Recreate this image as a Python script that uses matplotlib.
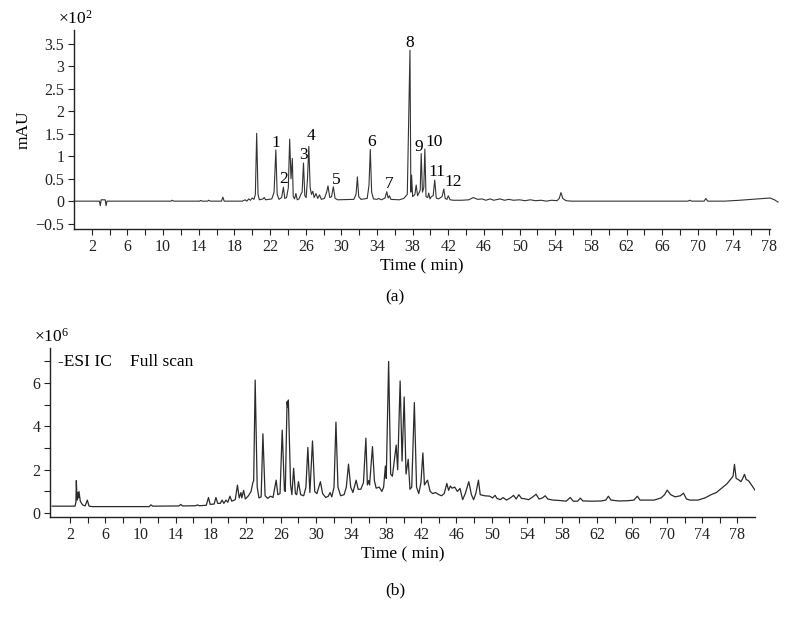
import matplotlib
matplotlib.use("Agg")
import matplotlib.pyplot as plt
from matplotlib.ticker import FixedLocator, FixedFormatter

plt.rcParams['font.family'] = ['Liberation Serif', 'DejaVu Serif']
plt.rcParams['mathtext.fontset'] = 'custom'
plt.rcParams['mathtext.rm'] = 'Liberation Serif'
plt.rcParams['mathtext.it'] = 'Liberation Serif:italic'

# ---------------- data: panel (a) UV chromatogram (x10^2 mAU) ----------------
time_a = [0, 2.85, 2.95, 3.05, 3.5, 3.6, 3.7, 10.9, 11.0, 11.2, 14.1, 14.2, 14.4,
          15.0, 15.1, 15.3, 16.55, 16.7, 16.85, 18.9, 19.2, 19.4, 19.6, 19.8, 20.0,
          20.2, 20.35, 20.5, 20.65, 20.8, 21.2, 21.35, 21.5, 22.2, 22.45, 22.65, 22.8,
          23.0, 23.3, 23.5, 23.65, 23.85, 24.05, 24.2, 24.35, 24.5, 24.6, 24.75, 24.9,
          25.05, 25.25, 25.45, 25.6, 25.75, 25.9, 26.05, 26.2, 26.35, 26.5, 26.65,
          26.8, 26.95, 27.15, 27.35, 27.55, 27.75, 28.1, 28.35, 28.5, 28.7, 28.9,
          29.1, 29.3, 29.6, 31.4, 31.65, 31.8, 31.95, 32.2, 32.9, 33.1, 33.25, 33.4,
          33.6, 34.0, 34.2, 34.5, 34.9, 35.1, 35.25, 35.4, 35.55, 36.5, 37.0, 37.4,
          37.55, 37.7, 37.8, 37.88, 38.0, 38.25, 38.4, 38.55, 38.75, 38.85, 38.96,
          39.1, 39.25, 39.37, 39.5, 39.7, 39.8, 39.95, 40.1, 40.3, 40.48, 40.65, 40.9,
          41.3, 41.5, 41.65, 41.85, 42.0, 42.2, 42.6, 43.5, 44.3, 44.8, 45.3, 45.8,
          46.2, 46.7, 47.1, 47.8, 48.3, 48.8, 49.3, 50.0, 50.6, 51.2, 51.8, 52.4,
          53.0, 53.6, 54.2, 54.45, 54.64, 54.85, 55.2, 55.8, 57.0, 60.0, 65.0, 68.9,
          69.1, 69.3, 70.7, 70.9, 71.1, 73.0, 74.7, 76.0, 77.2, 78.1, 78.6, 79.0]
value_a = [0.0, 0.0, -0.1, 0.03, 0.03, -0.1, 0.0, 0.0, 0.02, 0.0, 0.0, 0.015, 0.0,
           0.0, 0.02, 0.0, 0.0, 0.09, 0.0, 0.0, 0.03, 0.0, 0.05, 0.02, 0.07,
           0.04, 0.15, 1.51, 0.15, 0.03, 0.05, 0.08, 0.03, 0.05, 0.2, 1.14, 0.15,
           0.04, 0.08, 0.31, 0.06, 0.08, 0.3, 1.38, 0.5, 0.95, 0.1, 0.05, 0.17,
           0.03, 0.05, 0.15, 0.2, 0.85, 0.12, 0.08, 0.5, 1.22, 0.3, 0.15,
           0.22, 0.08, 0.17, 0.06, 0.14, 0.04, 0.06, 0.2, 0.34, 0.08, 0.1,
           0.32, 0.06, 0.03, 0.04, 0.15, 0.54, 0.1, 0.04, 0.06, 0.35, 1.15, 0.2,
           0.05, 0.04, 0.06, 0.03, 0.07, 0.21, 0.07, 0.12, 0.04, 0.03, 0.06, 0.15,
           1.74, 3.36, 0.2, 0.58, 0.1, 0.15, 0.36, 0.12, 0.2, 0.25, 1.06,
           0.2, 0.3, 1.16, 0.1, 0.08, 0.18, 0.05, 0.1, 0.12, 0.47, 0.07, 0.05,
           0.1, 0.27, 0.06, 0.04, 0.12, 0.03, 0.02, 0.02, 0.03, 0.08, 0.04, 0.05,
           0.02, 0.05, 0.02, 0.05, 0.02, 0.04, 0.02, 0.03, 0.01, 0.03, 0.01, 0.02,
           0.0, 0.02, 0.01, 0.06, 0.19, 0.06, 0.01, 0.0, 0.0, 0.0, 0.0, 0.0,
           0.02, 0.0, 0.0, 0.06, 0.0, 0.0, 0.02, 0.04, 0.06, 0.07, 0.03, -0.02]

ticks_a_y = [-0.5, 0, 0.5, 1, 1.5, 2, 2.5, 3, 3.5]
ticklabels_a_y = ['\u22120.5', '0', '0.5', '1', '1.5', '2', '2.5', '3', '3.5']

peak_ids = ['1', '2', '3', '4', '5', '6', '7', '8', '9', '10', '11', '12']
peak_label_t = [22.65, 23.5, 25.8, 26.6, 29.45, 33.4, 35.37, 37.7, 38.7, 40.4, 40.7, 42.5]
peak_label_v = [1.29, 0.49, 1.02, 1.45, 0.48, 1.32, 0.39, 3.53, 1.21, 1.32, 0.65, 0.43]

# ---------------- data: panel (b) -ESI ion chromatogram (x10^6) ----------------
time_b = [-0.05, 2.55, 2.65, 2.7, 2.78, 2.85, 2.95, 3.0, 3.15, 3.4, 3.7, 3.95, 4.15,
          4.5, 11.0, 11.2, 11.4, 14.4, 14.6, 14.8, 16.3, 16.5, 16.7, 17.5, 17.75,
          17.95, 18.4, 18.6, 18.8, 19.1, 19.3, 19.5, 19.75, 19.95, 20.2, 20.4, 20.8,
          21.05, 21.25, 21.45, 21.55, 21.75, 21.95, 22.3, 22.6, 22.8, 22.9, 23.07,
          23.3, 23.5, 23.75, 23.95, 24.2, 24.5, 24.8, 25.1, 25.46, 25.65, 25.9,
          26.15, 26.4, 26.5, 26.7, 26.78, 26.85, 27.1, 27.25, 27.45, 27.65, 27.8,
          28.0, 28.25, 28.6, 28.85, 29.07, 29.3, 29.6, 29.85, 30.1, 30.5, 30.75,
          31.1, 31.4, 31.6, 31.8, 32.05, 32.27, 32.5, 32.8, 33.2, 33.45, 33.7, 33.95,
          34.2, 34.57, 34.8, 35.1, 35.4, 35.68, 35.85, 36.0, 36.1, 36.43, 36.65,
          36.85, 37.2, 37.5, 37.7, 37.9, 38.0, 38.27, 38.5, 38.7, 39.13, 39.3, 39.58,
          39.8, 40.04, 40.25, 40.5, 40.7, 40.9, 41.2, 41.45, 41.7, 41.95, 42.17,
          42.35, 42.7, 43.0, 43.3, 43.6, 44.0, 44.3, 44.6, 44.9, 45.1, 45.3, 45.5,
          45.8, 46.1, 46.4, 46.7, 47.0, 47.4, 47.7, 47.95, 48.2, 48.5, 48.7, 49.2,
          49.8, 50.1, 50.4, 50.6, 51.0, 51.3, 51.7, 52.2, 52.5, 52.8, 53.1, 53.4,
          53.8, 54.2, 54.6, 55.07, 55.4, 55.8, 56.1, 56.4, 57.0, 57.8, 58.5, 58.95,
          59.3, 59.8, 60.1, 60.4, 61.5, 62.5, 63.0, 63.3, 63.6, 64.5, 65.5, 66.2,
          66.6, 66.9, 67.5, 68.5, 69.3, 69.7, 70.0, 70.4, 70.9, 71.5, 71.85, 72.2,
          72.6, 73.5, 74.3, 75.0, 75.6, 76.2, 76.8, 77.3, 77.5, 77.66, 77.85, 78.1,
          78.4, 78.6, 78.8, 79.0, 79.25, 79.6, 80.0]
value_b = [0.32, 0.32, 0.5, 1.5, 0.6, 0.95, 0.7, 1.0, 0.55, 0.38, 0.33, 0.6, 0.32,
           0.3, 0.3, 0.38, 0.32, 0.33, 0.4, 0.33, 0.34, 0.38, 0.34, 0.36, 0.72,
           0.4, 0.42, 0.72, 0.45, 0.45, 0.6, 0.45, 0.6, 0.5, 0.78, 0.55, 0.62,
           1.29, 0.7, 0.95, 0.7, 1.05, 0.65, 0.8, 1.0, 1.4, 1.5, 6.14,
           1.2, 0.7, 0.75, 3.66, 0.8, 0.68, 0.78, 0.72, 1.52, 0.85, 0.9,
           3.83, 1.05, 1.0, 5.14, 4.9, 5.22, 1.3, 0.85, 2.07, 0.9, 0.85,
           1.45, 0.85, 0.8, 1.2, 3.03, 0.95, 3.33, 1.0, 0.9, 1.45, 0.9,
           0.72, 0.78, 0.95, 0.75, 1.2, 4.2, 1.2, 0.8, 0.85, 1.2, 2.26, 1.2,
           0.95, 1.52, 1.1, 1.1, 1.4, 3.46, 1.3, 1.5, 1.3, 3.07, 1.5,
           1.15, 1.2, 1.0, 1.2, 2.17, 1.6, 7.0, 1.8, 1.7, 3.14, 2.0, 6.1,
           2.4, 5.36, 1.8, 2.48, 1.1, 1.2, 5.1, 1.2, 0.9, 1.4, 2.78,
           1.3, 1.52, 1.0, 0.9, 0.95, 0.85, 0.8, 0.9, 1.37, 1.05, 1.25, 1.15,
           1.2, 1.0, 1.14, 0.62, 0.9, 1.45, 0.85, 0.62, 0.9, 1.52, 0.85, 0.8,
           0.78, 0.7, 0.82, 0.68, 0.62, 0.72, 0.6, 0.72, 0.82, 0.65, 0.85, 0.68,
           0.66, 0.62, 0.72, 0.87, 0.65, 0.7, 0.8, 0.65, 0.6, 0.58, 0.55, 0.72,
           0.55, 0.55, 0.69, 0.56, 0.55, 0.56, 0.6, 0.78, 0.6, 0.56, 0.57, 0.6,
           0.78, 0.6, 0.6, 0.6, 0.7, 0.85, 1.06, 0.85, 0.75, 0.8, 0.92, 0.65,
           0.6, 0.6, 0.7, 0.85, 0.95, 1.15, 1.35, 1.6, 1.7, 2.25, 1.6, 1.55,
           1.45, 1.6, 1.79, 1.55, 1.5, 1.3, 1.06]

x_major = list(range(2, 80, 4))
x_minor = list(range(4, 80, 4))
ticks_b_y = [0, 2, 4, 6]
ticks_b_y_minor = [1, 3, 5, 7]

# ---------------- figure ----------------
fig = plt.figure(figsize=(7.9, 6.23), dpi=100)
ax1 = fig.add_axes([74 / 790, 1 - 229 / 623, (770 - 74) / 790, (229 - 30) / 623])
ax2 = fig.add_axes([50 / 790, 1 - 517 / 623, (755 - 50) / 790, (517 - 348) / 623])

line_col = '#2b2b2b'
fs_tick = 11.5
fs_lab = 12.5

for ax in (ax1, ax2):
    for s in ('top', 'right'):
        ax.spines[s].set_visible(False)
    for s in ('left', 'bottom'):
        ax.spines[s].set_linewidth(1.0)
        ax.spines[s].set_color('#222222')
    ax.xaxis.set_major_locator(FixedLocator(x_major))
    ax.xaxis.set_minor_locator(FixedLocator(x_minor))
    ax.tick_params(axis='both', which='both', direction='out', length=4, width=0.8,
                   colors='#222222', labelsize=fs_tick, pad=3)

# panel (a)
ax1.plot(time_a, value_a, color='#333333', lw=0.8, clip_on=False)
ax1.set_xlim(0, 78.1)
ax1.set_ylim(-0.62, 3.81)
ax1.yaxis.set_major_locator(FixedLocator(ticks_a_y))
ax1.yaxis.set_major_formatter(FixedFormatter(ticklabels_a_y))
ax1.set_ylabel('mAU', fontsize=fs_lab, labelpad=3)
ax1.set_xlabel('Time ( min)', fontsize=fs_lab, labelpad=3)
for lab, t, v in zip(peak_ids, peak_label_t, peak_label_v):
    ax1.text(t, v, lab, fontsize=fs_lab, ha='center', va='center')
fig.text(58 / 790, 1 - 19 / 623, r'$\times10^{2}$', fontsize=fs_lab, ha='left', va='center')
fig.text(395 / 790, 1 - 297 / 623, '(a)', fontsize=fs_lab, ha='center', va='center')

# panel (b)
ax2.plot(time_b, value_b, color=line_col, lw=0.9)
ax2.set_xlim(-0.3, 80.0)
ax2.set_ylim(-0.18, 7.62)
ax2.yaxis.set_major_locator(FixedLocator(ticks_b_y))
ax2.yaxis.set_minor_locator(FixedLocator(ticks_b_y_minor))
ax2.set_xlabel('Time ( min)', fontsize=fs_lab, labelpad=3)
fig.text(34 / 790, 1 - 337 / 623, r'$\times10^{6}$', fontsize=fs_lab, ha='left', va='center')
fig.text(58 / 790, 1 - 362 / 623, '-ESI IC', fontsize=fs_lab, ha='left', va='center')
fig.text(130 / 790, 1 - 362 / 623, 'Full scan', fontsize=fs_lab, ha='left', va='center')
fig.text(395 / 790, 1 - 590 / 623, '(b)', fontsize=fs_lab, ha='center', va='center')

fig.savefig('out.png', dpi=100)
